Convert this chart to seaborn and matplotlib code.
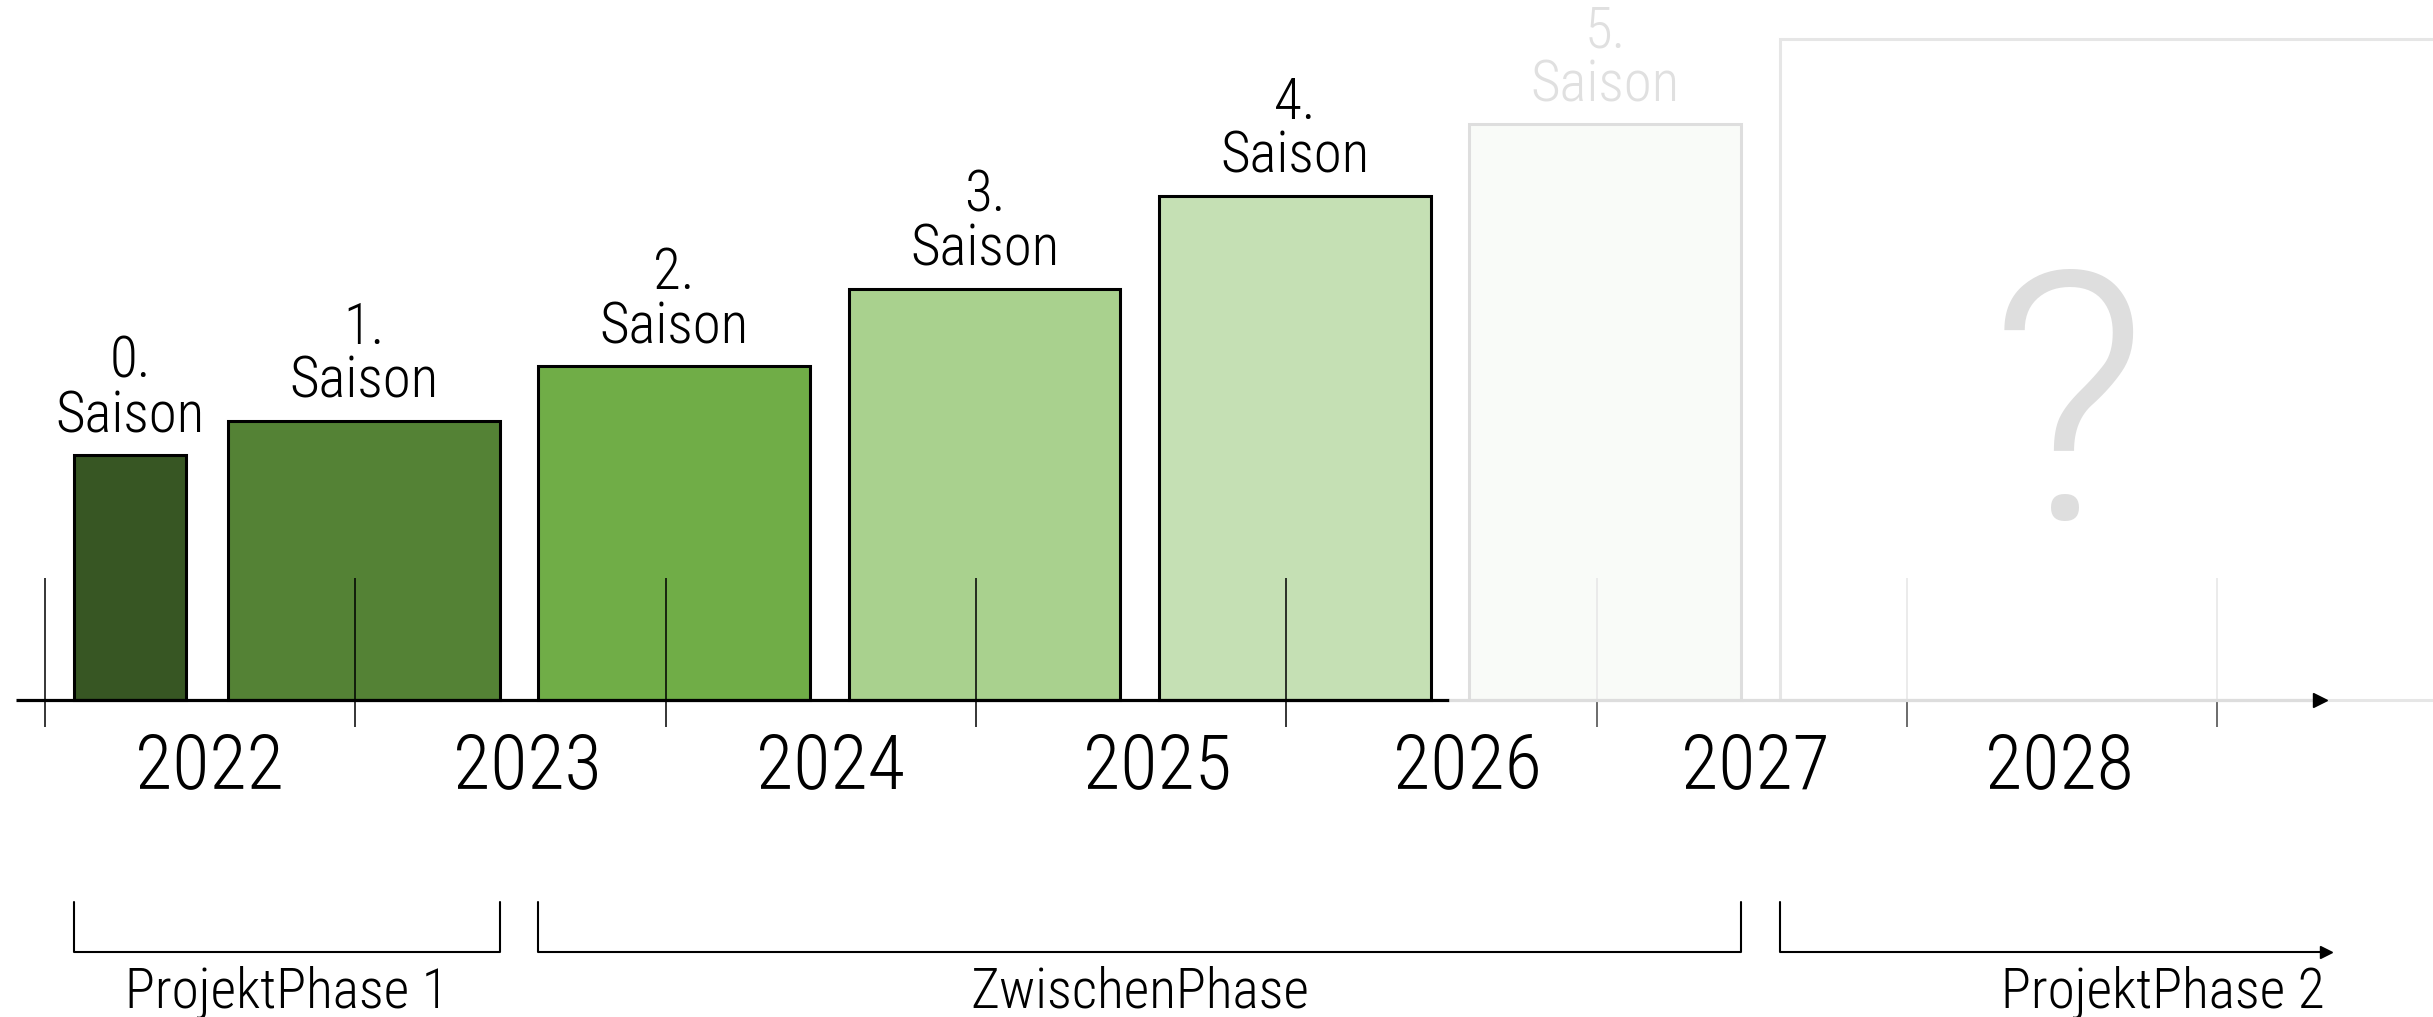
import matplotlib
matplotlib.use("Agg")
import matplotlib.pyplot as plt
import numpy as np
import pandas as pd
import seaborn as sns

# data
years = ["2022", "2023", "2024", "2025", "2026", "2027", "2028"]
seasons = ["0.", "1.", "2.", "3.", "4.", "5.", "6."]
heights = [1.58, 1.80, 2.15, 2.65, 3.25, 3.71, 4.26]
phase_names = ["ProjektPhase 1", "ZwischenPhase", "ProjektPhase 2"]
phase_first_bar = [0, 2, 6]
phase_last_bar = [1, 5, 6]

# layout / style
bar_colors = ["#375623", "#548235", "#70ad47", "#a9d18e", "#c5e0b4", "#f9fbf8", "#ffffff"]
edge_colors = ["black"] * 5 + ["#dedede", "#e6e6e6"]
text_colors = ["black"] * 5 + ["#e0e0e0", "#e0e0e0"]
bar_widths = [0.36, 0.875, 0.875, 0.875, 0.875, 0.875, 2.4]
bar_lefts = np.arange(len(seasons)) - 0.41
bar_lefts[0] = 0.095
year_nudge = [0.03, 0.055, 0.03, 0.085, 0.085, 0.01, -0.01]
faded_from = 5  # everything from 2027 on is greyed out

sns.set_theme(style="white")
plt.rcParams["font.family"] = ["Roboto Condensed", "Open Sans", "DejaVu Sans"]
plt.rcParams["font.weight"] = 300
plt.rcParams["text.color"] = "black"

fig = plt.figure(figsize=(24.33, 10.17), dpi=100)
ax = fig.add_axes([0, 0, 1, 1])

df = pd.DataFrame({"season": seasons, "height": heights})
sns.barplot(data=df, x="season", y="height", hue="season", palette=bar_colors,
            saturation=1, legend=False, linewidth=2, ax=ax)

for i, p in enumerate(ax.patches):
    p.set_x(bar_lefts[i])
    p.set_width(bar_widths[i])
    p.set_edgecolor(edge_colors[i])
    p.set_linewidth(2.2)
    p.set_zorder(2)

# season labels above the bars
for i, s in enumerate(seasons[:-1]):
    cx = bar_lefts[i] + bar_widths[i] / 2
    ax.text(cx, heights[i] + 0.07, s + "\nSaison", ha="center", va="bottom",
            fontsize=41, color=text_colors[i], linespacing=0.98, zorder=4)

ax.text(bar_lefts[6] + 0.93, 1.78, "?", ha="center", va="center",
        fontsize=250, fontweight=300, family="Roboto",
        color="#dedede", zorder=4)

# time axis
n_ticks = len(years) + 1
tick_x = np.arange(n_ticks)
ax.vlines(tick_x, 0, 0.79, colors=["black" if k < faded_from else "#e6e6e6" for k in tick_x],
          linewidth=1.1, zorder=3)
ax.vlines(tick_x, -0.17, 0, colors=["black" if k < faded_from else "#444444" for k in tick_x],
          linewidth=1.1, zorder=3)

solid_end = bar_lefts[4] + bar_widths[4] + 0.06
ax.plot([-0.095, solid_end], [0, 0], color="black", linewidth=2.3, zorder=3,
        solid_capstyle="butt")
ax.plot([solid_end, 7.33], [0, 0], color="#dddddd", linewidth=2.3, zorder=3,
        solid_capstyle="butt")
ax.plot([7.33], [0], marker=">", color="black", markersize=10, zorder=3)

for k, y in enumerate(years):
    ax.text(k + 0.5 + year_nudge[k], -0.43, y, ha="center", va="center",
            fontsize=55, color="black")

# phase brackets
yb, yt = -1.62, -1.30
for name, a, b in zip(phase_names, phase_first_bar, phase_last_bar):
    x0 = bar_lefts[a]
    x1 = bar_lefts[b] + bar_widths[b]
    if name == phase_names[-1]:
        ax.plot([x0, x0, 7.33], [yt, yb, yb], color="black", linewidth=1.5)
        ax.plot([7.35], [yb], marker=">", color="black", markersize=9)
        ax.text(7.345, -1.88, name, ha="right", va="center", fontsize=40)
    else:
        ax.plot([x0, x0, x1, x1], [yt, yb, yb, yt], color="black", linewidth=1.5)
        ax.text((x0 + x1) / 2, -1.88, name, ha="center", va="center", fontsize=40)

ax.set_xlim(-0.145, 7.695)
ax.set_ylim(-2.04, 4.51)
ax.set_axis_off()

fig.savefig("out.png", dpi=100)
